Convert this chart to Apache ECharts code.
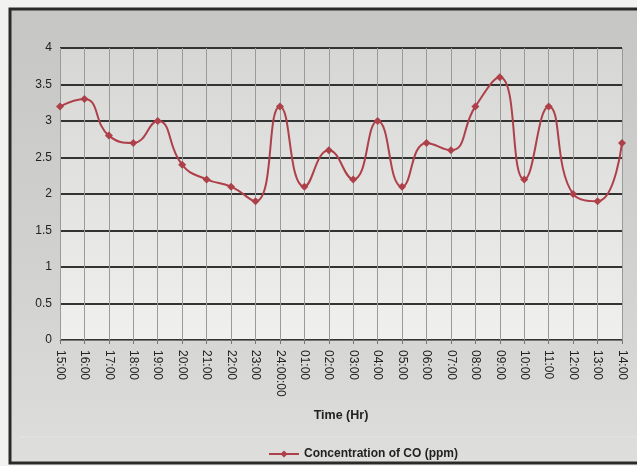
<!DOCTYPE html>
<html><head><meta charset="utf-8">
<script src="https://cdn.jsdelivr.net/npm/echarts@6/dist/echarts.min.js"></script>
<style>html,body{margin:0;padding:0;background:#f2f2f0;}#c{width:637px;height:466px;}</style>
</head><body><div id="c"></div>
<script>
const categories = ['15:00','16:00','17:00','18:00','19:00','20:00','21:00','22:00','23:00','24:00:00','01:00','02:00','03:00','04:00','05:00','06:00','07:00','08:00','09:00','10:00','11:00','12:00','13:00','14:00'];
const coValues = [3.2,3.3,2.8,2.7,3.0,2.4,2.2,2.1,1.9,3.2,2.1,2.6,2.2,3.0,2.1,2.7,2.6,3.2,3.6,2.2,3.2,2.0,1.9,2.7];
const seriesName = 'Concentration of CO (ppm)';
const xAxisName = 'Time (Hr)';

const chart = echarts.init(document.getElementById('c'), null, {renderer:'canvas'});
chart.setOption({
  animation:false,
  backgroundColor:'#f2f2f0',
  graphic:[{
    type:'rect', z:-10, silent:true,
    shape:{x:10,y:9,width:640,height:454},
    style:{
      fill:{type:'linear',x:0,y:0,x2:0,y2:1,colorStops:[{offset:0,color:'#c6c6c4'},{offset:0.6,color:'#d2d2d0'},{offset:1,color:'#dededc'}]},
      stroke:'#2a2a2a', lineWidth:3
    }
  },{
    type:'line', z:-9, silent:true,
    shape:{x1:20,y1:437,x2:637,y2:437},
    style:{stroke:'#e4e4e2',lineWidth:1}
  }],
  grid:{left:60,right:15,top:48,bottom:126,show:true,borderWidth:0,
    backgroundColor:{type:'linear',x:0,y:0,x2:0,y2:1,colorStops:[{offset:0,color:'#d6d6d4'},{offset:1,color:'#f0f0ee'}]}},
  legend:{left:263,top:443,itemWidth:30,itemHeight:9,itemGap:5,
    textStyle:{fontFamily:'Liberation Sans',fontWeight:'bold',fontSize:12,color:'#222'},
    data:[{name:seriesName}]},
  xAxis:{type:'category',data:categories,boundaryGap:false,
    name:xAxisName,nameLocation:'middle',nameGap:69,
    nameTextStyle:{fontFamily:'Liberation Sans',fontWeight:'bold',fontSize:12.5,color:'#222'},
    axisLine:{show:true,lineStyle:{color:'#777',width:1}},
    axisTick:{show:true,length:4,lineStyle:{color:'#777'}},
    axisLabel:{rotate:-90,margin:10,fontFamily:'Liberation Sans',fontSize:12,color:'#222',interval:0},
    splitLine:{show:true,lineStyle:{color:'#9a9a9a',width:1}}},
  yAxis:{type:'value',min:0,max:4,interval:0.5,
    axisLine:{show:false},axisTick:{show:false},
    axisLabel:{margin:8,fontFamily:'Liberation Sans',fontSize:12,color:'#222'},
    splitLine:{show:true,lineStyle:{color:'#333',width:2}}},
  series:[{name:seriesName,type:'line',data:coValues,smooth:0.5,
    symbol:'diamond',symbolSize:8,
    lineStyle:{color:'#ad4049',width:2},
    itemStyle:{color:'#ad4049'}}]
});
</script></body></html>
